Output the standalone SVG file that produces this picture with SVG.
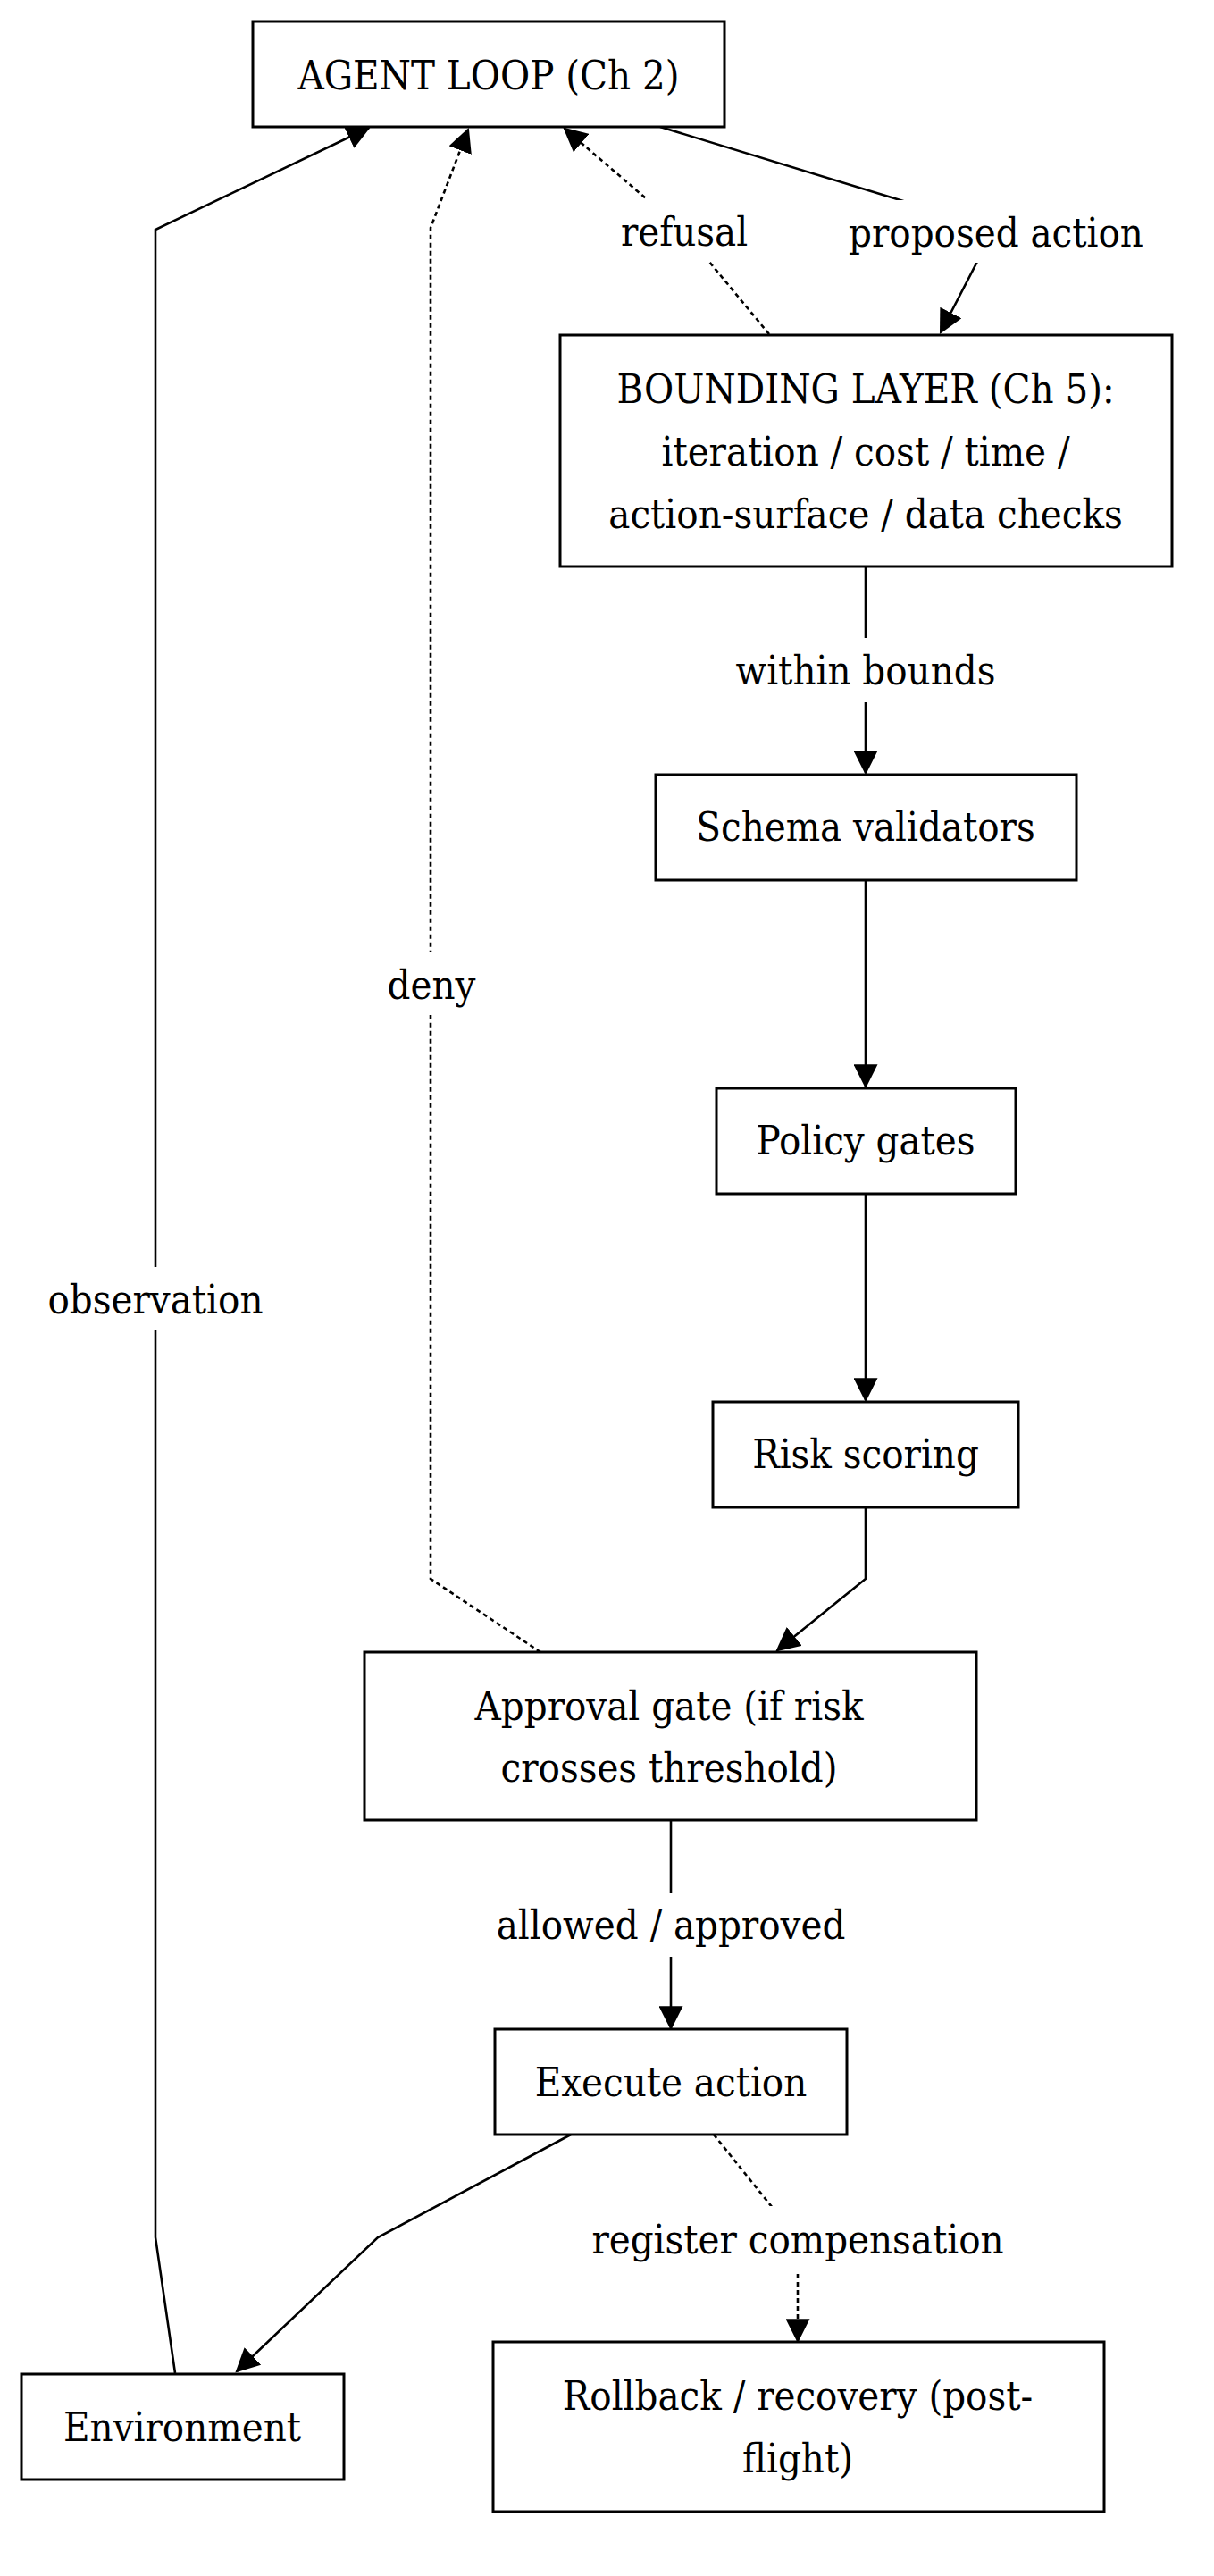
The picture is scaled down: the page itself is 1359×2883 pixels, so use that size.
<svg xmlns="http://www.w3.org/2000/svg" width="1359" height="2883" viewBox="0 0 1359 2883">
<style>
  .box { fill: #ffffff; stroke: #000000; stroke-width: 3; }
  .t { font-family: 'DejaVu Serif Condensed', 'DejaVu Serif', serif; font-stretch: condensed; font-size: 45px; fill: #000000; text-anchor: middle; }
  .e { fill: none; stroke: #000000; stroke-width: 2.6; }
  .d { stroke-dasharray: 5 4; }
  .lbg { fill: #ffffff; stroke: none; }
</style>
<defs>
  <marker id="arr" markerUnits="userSpaceOnUse" markerWidth="27" markerHeight="27" viewBox="0 0 24 24" refX="22" refY="12" orient="auto">
    <path d="M0,0 L24,12 L0,24 Z" fill="#000000" stroke="none"/>
  </marker>
</defs>
<rect x="0" y="0" width="1359" height="2883" fill="#ffffff"/>

<g id="connectors">
  <polyline id="e-proposed" class="e" points="739,142 1113,256 1053,372" marker-end="url(#arr)"/>
  <polyline id="e-refusal" class="e d" points="861,374 765,258 632,144" marker-end="url(#arr)"/>
  <polyline id="e-within" class="e" points="969,634 969,865" marker-end="url(#arr)"/>
  <polyline id="e-schema-policy" class="e" points="969,985 969,1216" marker-end="url(#arr)"/>
  <polyline id="e-policy-risk" class="e" points="969,1336 969,1567" marker-end="url(#arr)"/>
  <polyline id="e-risk-approval" class="e" points="969,1687 969,1767 870,1847" marker-end="url(#arr)"/>
  <polyline id="e-deny" class="e d" points="605,1849 482,1767 482,255 524,145" marker-end="url(#arr)"/>
  <polyline id="e-approved" class="e" points="751,2037 751,2270" marker-end="url(#arr)"/>
  <polyline id="e-exec-env" class="e" points="639,2389 423,2504 265,2654" marker-end="url(#arr)"/>
  <polyline id="e-compensation" class="e d" points="799,2389 893,2506 893,2620" marker-end="url(#arr)"/>
  <polyline id="e-observation" class="e" points="196,2656 174,2504 174,257 413,143" marker-end="url(#arr)"/>

  <g id="edge-labels">
    <rect class="lbg" x="697" y="223" width="138" height="70"/>
    <text class="t" x="766" y="275">refusal</text>
    <rect class="lbg" x="951" y="224" width="328" height="70"/>
    <text class="t" x="1115" y="276">proposed action</text>
    <rect class="lbg" x="823" y="714" width="293" height="72"/>
    <text class="t" x="969" y="766">within bounds</text>
    <rect class="lbg" x="434" y="1066" width="98" height="70"/>
    <text class="t" x="483" y="1118">deny</text>
    <rect class="lbg" x="56" y="1418" width="237" height="70"/>
    <text class="t" x="174" y="1470">observation</text>
    <rect class="lbg" x="550" y="2119" width="401" height="71"/>
    <text class="t" x="751" y="2170">allowed / approved</text>
    <rect class="lbg" x="666" y="2469" width="453" height="72"/>
    <text class="t" x="893" y="2522">register compensation</text>
  </g>
</g>

<g id="agent-loop">
  <rect class="box" x="283" y="24" width="528" height="118"/>
  <text class="t" x="547" y="100">AGENT LOOP (Ch 2)</text>
</g>
<g id="bounding-layer">
  <rect class="box" x="627" y="375" width="685" height="259"/>
  <text class="t" x="969" y="451">BOUNDING LAYER (Ch 5):</text>
  <text class="t" x="969" y="521">iteration / cost / time /</text>
  <text class="t" x="969" y="591">action-surface / data checks</text>
</g>
<g id="schema-validators">
  <rect class="box" x="734" y="867" width="471" height="118"/>
  <text class="t" x="969" y="941">Schema validators</text>
</g>
<g id="policy-gates">
  <rect class="box" x="802" y="1218" width="335" height="118"/>
  <text class="t" x="969" y="1292">Policy gates</text>
</g>
<g id="risk-scoring">
  <rect class="box" x="798" y="1569" width="342" height="118"/>
  <text class="t" x="969" y="1643">Risk scoring</text>
</g>
<g id="approval-gate">
  <rect class="box" x="408" y="1849" width="685" height="188"/>
  <text class="t" x="749" y="1925">Approval gate (if risk</text>
  <text class="t" x="749" y="1994">crosses threshold)</text>
</g>
<g id="execute-action">
  <rect class="box" x="554" y="2271" width="394" height="118"/>
  <text class="t" x="751" y="2346">Execute action</text>
</g>
<g id="environment">
  <rect class="box" x="24" y="2657" width="361" height="118"/>
  <text class="t" x="204" y="2732">Environment</text>
</g>
<g id="rollback">
  <rect class="box" x="552" y="2621" width="684" height="190"/>
  <text class="t" x="893" y="2697">Rollback / recovery (post-</text>
  <text class="t" x="893" y="2767">flight)</text>
</g>
</svg>
